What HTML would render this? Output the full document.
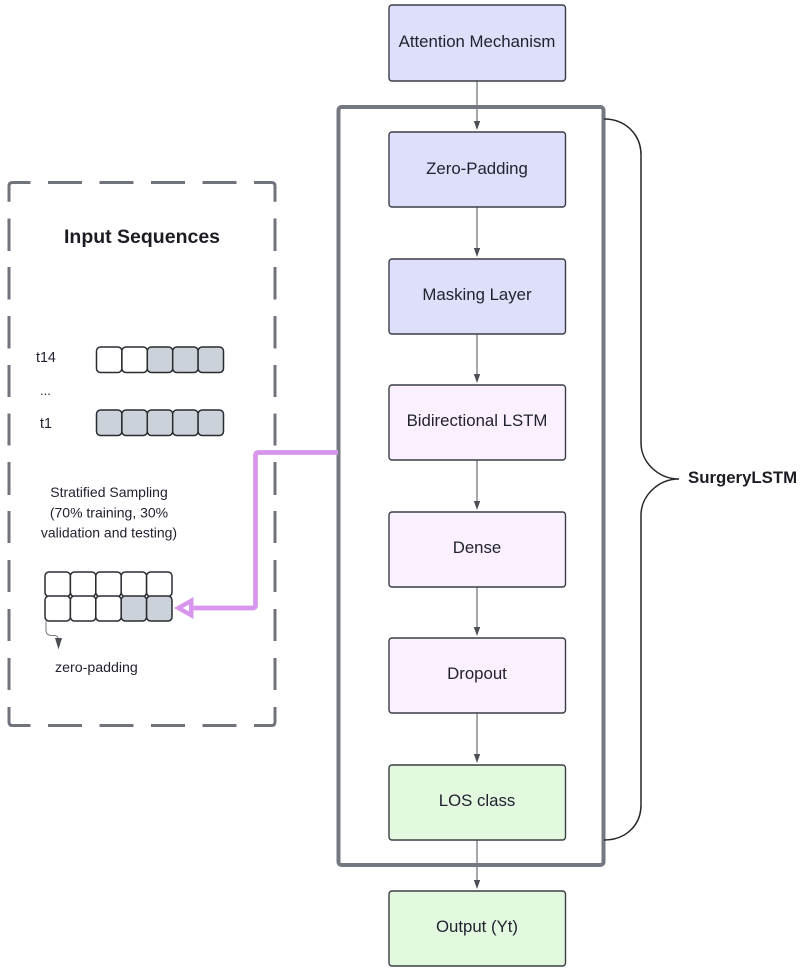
<!DOCTYPE html>
<html><head><meta charset="utf-8"><style>
html,body{margin:0;padding:0;background:#fff}
svg{display:block}
text{font-family:"Liberation Sans",sans-serif;fill:#222230}
.b{stroke:#3a3d46;stroke-width:1.4}
.c{stroke:#2a2c32;stroke-width:1.5}
.a{stroke:#77797f;stroke-width:1.3;fill:none}
.h{fill:#4d4f56}
.l{font-size:16.800px;text-anchor:middle}
.s{font-size:14px;text-anchor:middle}
.t{font-size:14.300px}
</style></head><body>
<svg width="800" height="975" viewBox="0 0 800 975" xmlns="http://www.w3.org/2000/svg">
<rect width="800" height="975" fill="#fff"/>
<!-- dashed -->
<path d="M9 201.700V186Q9 182.500 12.500 182.500H30.500M48 182.500H82M99.500 182.500H133.500M151 182.500H185M202.500 182.500H236.500M254 182.500H271.500Q275 182.500 275 186V201.700M9 218.500V251M9 267V299.500M9 316V348.500M9 365V397M9 413.500V445.500M9 462V495M9 511V543M9 560V592M9 609V641M9 658V690M9 707V722Q9 725.500 12.500 725.500H30.500M48 725.500H82M99.500 725.500H133.500M151 725.500H185M202.500 725.500H236.500M254 725.500H271.500Q275 725.500 275 722V707M275 218.500V251M275 267V299.500M275 316V348.500M275 365V397M275 413.500V445.500M275 462V495M275 511V543M275 560V592M275 609V641M275 658V690" fill="none" stroke="#70737c" stroke-width="3"/>
<!-- outer -->
<rect x="338.500" y="107" width="265" height="758" rx="3" fill="#fff" stroke="#747881" stroke-width="4"/>
<!-- connectors -->
<path class="a" d="M477 81V122M477 207V249M477 334V375M477 460V502M477 587V628M477 713V755M477 840V881"/>
<g class="h">
<path d="M473.800 121H480.200L477 130Z"/><path d="M473.800 248H480.200L477 257Z"/><path d="M473.800 374H480.200L477 383Z"/><path d="M473.800 501H480.200L477 510Z"/><path d="M473.800 627H480.200L477 636Z"/><path d="M473.800 754H480.200L477 763Z"/><path d="M473.800 880H480.200L477 889Z"/>
</g>
<!-- boxes -->
<g class="b">
<rect x="389" y="5" width="176.500" height="76" rx="3" fill="#dedffb"/>
<rect x="389" y="132" width="176.500" height="75" rx="3" fill="#dedffb"/>
<rect x="389" y="259" width="176.500" height="75" rx="3" fill="#dedffb"/>
<rect x="389" y="385" width="176.500" height="75" rx="3" fill="#fbf0fd"/>
<rect x="389" y="512" width="176.500" height="75" rx="3" fill="#fbf0fd"/>
<rect x="389" y="638" width="176.500" height="75" rx="3" fill="#fbf0fd"/>
<rect x="389" y="765" width="176.500" height="75" rx="3" fill="#e2f9e0"/>
<rect x="389" y="891" width="176.500" height="75" rx="3" fill="#e2f9e0"/>
</g>
<g class="l">
<text x="477" y="47">Attention Mechanism</text>
<text x="477" y="174">Zero-Padding</text>
<text x="477" y="300">Masking Layer</text>
<text x="477" y="426">Bidirectional LSTM</text>
<text x="477" y="553">Dense</text>
<text x="477" y="679">Dropout</text>
<text x="477" y="806">LOS class</text>
<text x="477" y="932">Output (Yt)</text>
</g>
<!-- brace -->
<path d="M604 119C626 119 641 135 641 155V443C641 462 658 479 679 479C658 479 641 496 641 515V805C641 825 626 840 604 840" fill="none" stroke="#26272c" stroke-width="1.500"/>
<text x="688" y="483" font-size="16.800" font-weight="bold" style="fill:#1c1c24">SurgeryLSTM</text>
<!-- left -->
<text x="142" y="243" font-size="19.500" font-weight="bold" text-anchor="middle" style="fill:#1c1c24">Input Sequences</text>
<text x="36" y="362" class="t">t14</text>
<text x="40" y="395" font-size="13">...</text>
<text x="40" y="428" class="t">t1</text>
<g class="c">
<rect x="96.500" y="347" width="25.400" height="25.500" rx="4" fill="#fff"/>
<rect x="121.900" y="347" width="25.400" height="25.500" rx="4" fill="#fff"/>
<rect x="147.300" y="347" width="25.400" height="25.500" rx="4" fill="#ccd2da"/>
<rect x="172.700" y="347" width="25.400" height="25.500" rx="4" fill="#ccd2da"/>
<rect x="198.100" y="347" width="25.400" height="25.500" rx="4" fill="#ccd2da"/>
<rect x="96.500" y="410" width="25.400" height="25.500" rx="4" fill="#ccd2da"/>
<rect x="121.900" y="410" width="25.400" height="25.500" rx="4" fill="#ccd2da"/>
<rect x="147.300" y="410" width="25.400" height="25.500" rx="4" fill="#ccd2da"/>
<rect x="172.700" y="410" width="25.400" height="25.500" rx="4" fill="#ccd2da"/>
<rect x="198.100" y="410" width="25.400" height="25.500" rx="4" fill="#ccd2da"/>
<rect x="45" y="572" width="25.400" height="24.500" rx="4" fill="#fff"/>
<rect x="70.400" y="572" width="25.400" height="24.500" rx="4" fill="#fff"/>
<rect x="95.800" y="572" width="25.400" height="24.500" rx="4" fill="#fff"/>
<rect x="121.200" y="572" width="25.400" height="24.500" rx="4" fill="#fff"/>
<rect x="146.600" y="572" width="25.400" height="24.500" rx="4" fill="#fff"/>
<rect x="45" y="596" width="25.400" height="25" rx="4" fill="#fff"/>
<rect x="70.400" y="596" width="25.400" height="25" rx="4" fill="#fff"/>
<rect x="95.800" y="596" width="25.400" height="25" rx="4" fill="#fff"/>
<rect x="121.200" y="596" width="25.400" height="25" rx="4" fill="#ccd2da"/>
<rect x="146.600" y="596" width="25.400" height="25" rx="4" fill="#ccd2da"/>
</g>
<g class="s">
<text x="109" y="497">Stratified Sampling</text>
<text x="109" y="517.500">(70% training, 30%</text>
<text x="109" y="537.500">validation and testing)</text>
</g>
<text x="55" y="672" font-size="14.200">zero-padding</text>
<!-- zero-padding arrow -->
<path d="M46 621V630Q46 635 51 635.500H55Q58 636 58.500 640" fill="none" stroke="#77797f" stroke-width="1"/>
<path d="M55 638H62L58.500 649.500Z" class="h"/>
<!-- pink -->
<path d="M338 452.500H258Q255.500 452.500 255.500 455V605.500Q255.500 608 253 608H192" fill="none" stroke="#d795ec" stroke-width="4.700"/>
<path d="M174 608L193.500 597V619Z" fill="#d795ec"/>
<path d="M183 608L189 604.500V611.500Z" fill="#fff"/>
</svg>
</body></html>
